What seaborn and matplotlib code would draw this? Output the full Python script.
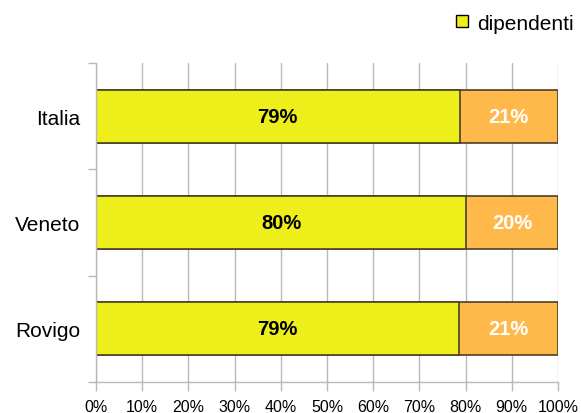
import matplotlib
matplotlib.use("Agg")
import matplotlib.pyplot as plt
from matplotlib.patches import Patch
from matplotlib.ticker import FixedLocator, PercentFormatter
import seaborn as sns
import pandas as pd

# data
aree = ["Italia", "Veneto", "Rovigo"]
dipendenti = [78.7, 80.1, 78.6]
indipendenti = [21.3, 19.9, 21.4]
xticks = list(range(0, 101, 10))

col_dip = "#eeee1a"
col_ind = "#ffb84a"
edge = "#4a3f2a"
grid_col = "#b8b8b8"

sns.set_style("white")
plt.rcParams["font.family"] = ["Liberation Sans", "DejaVu Sans"]
plt.rcParams["text.color"] = "black"

df = pd.DataFrame({"area": aree, "dipendenti": dipendenti,
                   "indipendenti": indipendenti})
df["totale"] = df["dipendenti"] + df["indipendenti"]

fig = plt.figure(figsize=(5.81, 4.14), dpi=100)
ax = fig.add_axes([96 / 581, 31 / 414, 462 / 581, 319 / 414])

# stacked bars: full total in orange, dipendenti drawn on top in yellow
sns.barplot(data=df, x="totale", y="area", orient="h", color=col_ind,
            saturation=1, width=0.5, edgecolor=edge, linewidth=1.2, ax=ax)
sns.barplot(data=df, x="dipendenti", y="area", orient="h", color=col_dip,
            saturation=1, width=0.5, edgecolor=edge, linewidth=1.2, ax=ax)

for i, row in df.iterrows():
    ax.text(row["dipendenti"] / 2, i, f"{row['dipendenti']:.0f}%",
            ha="center", va="center", fontsize=14.5, fontweight="bold",
            color="black")
    ax.text(row["dipendenti"] + row["indipendenti"] / 2, i,
            f"{row['indipendenti']:.0f}%", ha="center", va="center",
            fontsize=14.5, fontweight="bold", color="white")

ax.set_xlim(0, 100)
ax.set_ylim(2.5, -0.5)
ax.set_xticks(xticks)
ax.xaxis.set_major_formatter(PercentFormatter(decimals=0))
ax.yaxis.set_minor_locator(FixedLocator([-0.5, 0.5, 1.5, 2.5]))
ax.set_xlabel("")
ax.set_ylabel("")

ax.grid(axis="x", color=grid_col, linewidth=1)
ax.set_axisbelow(True)
for s in ["top", "right"]:
    ax.spines[s].set_visible(False)
for s in ["left", "bottom"]:
    ax.spines[s].set_color(grid_col)
    ax.spines[s].set_linewidth(1)

ax.tick_params(axis="x", which="major", length=6.5, width=1, color=grid_col,
               labelsize=11.5, pad=5.5, bottom=True, labelcolor="black")
ax.tick_params(axis="y", which="major", length=0, labelsize=15, pad=11.5,
               labelcolor="black")
ax.tick_params(axis="y", which="minor", length=6, width=1, color=grid_col,
               left=True)

handles = [Patch(facecolor=col_dip, edgecolor="black", linewidth=1)]
fig.legend(handles, ["dipendenti"], loc="upper right",
           bbox_to_anchor=(1.009, 0.995), frameon=False, fontsize=15,
           handlelength=0.55, handleheight=0.55, handletextpad=0.45,
           borderaxespad=0.2)

fig.savefig("out.png", dpi=100)
